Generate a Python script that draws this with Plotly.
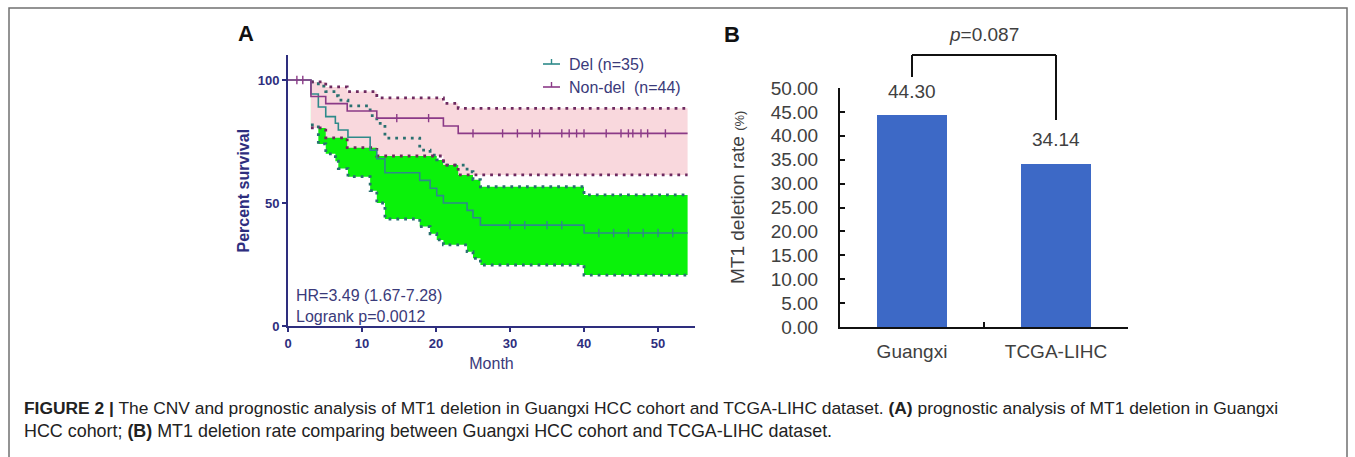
import numpy as np
import plotly.graph_objects as go

W, H = 1355, 457

# ---------------- Panel A data (Kaplan-Meier) ----------------
del_t = [0, 3.1, 4.1, 5.1, 6.4, 6.8, 8.1, 11.1, 12.0, 13.1, 17.8, 19.2, 20.1, 21.0, 24.2, 25.0, 26.0, 40.0, 54.0]
del_s = [100, 94.3, 89.0, 85.1, 82.4, 79.7, 76.7, 71.5, 68.0, 62.3, 59.2, 56.0, 53.0, 50.0, 47.0, 44.0, 41.0, 37.8, 37.8]
del_up = [100, 99.2, 97.5, 95.3, 93.6, 91.8, 89.5, 85.5, 82.4, 76.4, 71.5, 69.5, 67.5, 65.4, 62.7, 59.5, 56.6, 53.3, 53.3]
del_lo = [100, 81.7, 74.0, 70.0, 67.0, 64.0, 60.7, 55.0, 50.0, 43.5, 40.4, 37.5, 35.0, 33.0, 30.2, 27.5, 24.8, 20.7, 20.7]
del_cens = [30, 32, 35, 37, 42, 44, 46, 48, 50, 52]

nd_t = [0, 3.1, 5.1, 8.0, 12.0, 21.0, 23.0, 54.0]
nd_s = [100, 93.3, 90.4, 87.4, 84.5, 81.3, 78.3, 78.3]
nd_up = [100, 99.2, 97.2, 95.3, 92.7, 90.5, 88.5, 88.5]
nd_lo = [100, 80.5, 76.5, 72.5, 69.1, 65.4, 61.4, 61.4]
nd_cens = [1.2, 2.0, 14.7, 19.0, 25.0, 29.0, 31.0, 33.0, 34.0, 37.0, 38.0, 39.0, 40.0,
           43.0, 45.0, 46.0, 46.6, 47.7, 48.6, 51.0]

x_ticks_a = [0, 10, 20, 30, 40, 50]
y_ticks_a = [0, 50, 100]

# ---------------- Panel B data ----------------
cohorts = ["Guangxi", "TCGA-LIHC"]
del_rate = [44.30, 34.14]

# ---------------- styles ----------------
NAVY = "#2E2E7E"
TXT_A = "#3A3A7A"
DEL_C = "#2E8A8A"
DEL_DOT = "#2A7070"
ND_C = "#8B3A87"
ND_DOT = "#6E2A60"
GREEN = "#0AF20A"
PINK = "#F9D8DD"
GRAY_T = "#404040"
FONT = "Liberation Sans, Arial, sans-serif"


def px(x):
    return x / W


def py(y):
    return 1 - y / H


def step_at(t, s, c):
    i = np.searchsorted(np.asarray(t), c, side="right") - 1
    return float(np.asarray(s)[i])


fig = go.Figure()

# CI fills (green for Del, opaque pink for Non-del drawn above)
fig.add_trace(go.Scatter(x=del_t[1:], y=del_lo[1:], mode="lines", line=dict(width=0, shape="hv"),
                         showlegend=False, hoverinfo="skip", xaxis="x", yaxis="y"))
fig.add_trace(go.Scatter(x=del_t[1:], y=del_up[1:], mode="lines", line=dict(width=0, shape="hv"),
                         fill="tonexty", fillcolor=GREEN, showlegend=False, hoverinfo="skip",
                         xaxis="x", yaxis="y"))
fig.add_trace(go.Scatter(x=nd_t[1:], y=nd_lo[1:], mode="lines", line=dict(width=0, shape="hv"),
                         showlegend=False, hoverinfo="skip", xaxis="x", yaxis="y"))
fig.add_trace(go.Scatter(x=nd_t[1:], y=nd_up[1:], mode="lines", line=dict(width=0, shape="hv"),
                         fill="tonexty", fillcolor=PINK, showlegend=False, hoverinfo="skip",
                         xaxis="x", yaxis="y"))

# dotted CI borders
for t, arr, col in [(del_t, del_up, DEL_DOT), (del_t, del_lo, DEL_DOT),
                    (nd_t, nd_up, ND_DOT), (nd_t, nd_lo, ND_DOT)]:
    fig.add_trace(go.Scatter(x=t[1:], y=arr[1:], mode="lines",
                             line=dict(color=col, width=2.8, shape="hv", dash="2.8px,5px"),
                             showlegend=False, hoverinfo="skip", xaxis="x", yaxis="y"))

# survival curves
fig.add_trace(go.Scatter(x=del_t, y=del_s, mode="lines", name="Del (n=35)",
                         line=dict(color=DEL_C, width=1.6, shape="hv"),
                         showlegend=False, xaxis="x", yaxis="y"))
fig.add_trace(go.Scatter(x=nd_t, y=nd_s, mode="lines", name="Non-del (n=44)",
                         line=dict(color=ND_C, width=1.6, shape="hv"),
                         showlegend=False, xaxis="x", yaxis="y"))

# censor marks
fig.add_trace(go.Scatter(x=del_cens, y=[step_at(del_t, del_s, c) for c in del_cens], mode="markers",
                         marker=dict(symbol="line-ns", size=6, line=dict(color=DEL_C, width=1.4)),
                         showlegend=False, hoverinfo="skip", xaxis="x", yaxis="y"))
fig.add_trace(go.Scatter(x=nd_cens, y=[step_at(nd_t, nd_s, c) for c in nd_cens], mode="markers",
                         marker=dict(symbol="line-ns", size=6, line=dict(color=ND_C, width=1.4)),
                         showlegend=False, hoverinfo="skip", xaxis="x", yaxis="y"))

# ---------------- Panel B bars ----------------
fig.add_trace(go.Bar(x=cohorts, y=del_rate, width=0.49, marker=dict(color="#3D69C6", line=dict(width=0)),
                     showlegend=False, xaxis="x2", yaxis="y2"))

annotations = []
shapes = []


def note(x, y, text, size, color, xanchor="center", yanchor="middle", xref="paper", yref="paper", **kw):
    annotations.append(dict(x=x, y=y, xref=xref, yref=yref, text=text, showarrow=False,
                            xanchor=xanchor, yanchor=yanchor,
                            font=dict(family=kw.pop("family", FONT), size=size, color=color), **kw))


for c, v in zip(cohorts, del_rate):
    note(c, v, f"{v:.2f}", 19, GRAY_T, xref="x2", yref="y2", yshift=24)

# significance bracket
bx0, bx1 = 0, 1
shapes += [
    dict(type="line", xref="x2", yref="paper", x0=bx0, x1=bx0, y0=py(77), y1=py(55),
         line=dict(color="#111", width=2)),
    dict(type="line", xref="x2", yref="paper", x0=bx0, x1=bx1, y0=py(55), y1=py(55),
         line=dict(color="#111", width=2)),
    dict(type="line", xref="x2", yref="paper", x0=bx1, x1=bx1, y0=py(55), y1=py(120),
         line=dict(color="#111", width=2)),
]
note(0.5, py(35), "<i>p</i>=0.087", 19, GRAY_T, xref="x2")

# panel letters
note(px(246), py(34), "<b>A</b>", 22, "#111")
note(px(732), py(35), "<b>B</b>", 22, "#111")

# panel B y-axis title
note(px(737), py(198), "MT1 deletion rate <span style='font-size:13px'>(%)</span>", 19, GRAY_T,
     textangle=-90)

# legend (manual)
for yy, col, name in [(64, DEL_C, "Del (n=35)"), (87, ND_C, "Non-del  (n=44)")]:
    shapes.append(dict(type="line", xref="paper", yref="paper", x0=px(543), x1=px(560),
                       y0=py(yy), y1=py(yy), line=dict(color=col, width=1.6)))
    shapes.append(dict(type="line", xref="paper", yref="paper", x0=px(551.5), x1=px(551.5),
                       y0=py(yy), y1=py(yy - 5), line=dict(color=col, width=1.4)))
    note(px(567), py(yy), name, 16, TXT_A, xanchor="left")

# HR text
note(px(294), py(295), "HR=3.49 (1.67-7.28)", 16, TXT_A, xanchor="left")
note(px(294), py(316), "Logrank p=0.0012", 16, TXT_A, xanchor="left")

# caption
note(px(22), py(408),
     "<b>FIGURE 2 |</b> The CNV and prognostic analysis of MT1 deletion in Guangxi HCC "
     "cohort and TCGA-LIHC dataset. <b>(A)</b> prognostic analysis of MT1 deletion in Guangxi",
     17.4, "#222", xanchor="left")
note(px(22), py(431),
     "HCC cohort; <b>(B)</b> MT1 deletion rate comparing between Guangxi HCC cohort "
     "and TCGA-LIHC dataset.",
     17.9, "#222", xanchor="left")

# outer frame
shapes.append(dict(type="rect", xref="paper", yref="paper", x0=px(9), x1=px(1347), y0=-0.2, y1=py(8),
                   line=dict(color="#707070", width=1.5), fillcolor="rgba(0,0,0,0)"))

fig.update_layout(
    width=W, height=H, margin=dict(l=0, r=0, t=0, b=0, pad=0, autoexpand=False),
    paper_bgcolor="white", plot_bgcolor="white",
    showlegend=False, bargap=0,
    annotations=annotations, shapes=shapes,
    xaxis=dict(domain=[px(288), px(695)], range=[0, 55], anchor="y", automargin=False,
               tickvals=x_ticks_a, ticks="outside", ticklen=4, tickwidth=2, tickcolor=NAVY,
               showline=True, linecolor=NAVY, linewidth=2, showgrid=False, zeroline=False,
               tickfont=dict(family=FONT, size=13, color=NAVY, weight="bold"),
               title=dict(text="Month", standoff=8, font=dict(family=FONT, size=16, color=TXT_A))),
    yaxis=dict(domain=[py(326), py(55.4)], range=[0, 110], anchor="x", automargin=False,
               tickvals=y_ticks_a, ticks="outside", ticklen=4, tickwidth=2, tickcolor=NAVY,
               showline=True, linecolor=NAVY, linewidth=2, showgrid=False, zeroline=False,
               tickfont=dict(family=FONT, size=13, color=NAVY, weight="bold"),
               title=dict(text="Percent survival", standoff=4,
                          font=dict(family=FONT, size=16, color=NAVY, weight="bold"))),
    xaxis2=dict(domain=[px(840), px(1128)], range=[-0.5, 1.5], anchor="y2", type="category",
                automargin=False,
                ticks="inside", tickson="boundaries", ticklen=5, tickwidth=2, tickcolor="#111",
                showline=True, linecolor="#111", linewidth=2, showgrid=False, zeroline=False,
                ticklabelstandoff=6,
                tickfont=dict(family=FONT, size=19, color=GRAY_T)),
    yaxis2=dict(domain=[py(327), py(88)], range=[0, 50], anchor="x2", automargin=False,
                dtick=5, tickformat=".2f", ticks="inside", ticklen=5, tickwidth=2, tickcolor="#111",
                showline=True, linecolor="#111", linewidth=2, showgrid=False, zeroline=False,
                ticklabelstandoff=16,
                tickfont=dict(family=FONT, size=19, color=GRAY_T)),
)

fig.write_html("out.html", config={"displayModeBar": False},
               post_script="document.body.style.margin='0';")
